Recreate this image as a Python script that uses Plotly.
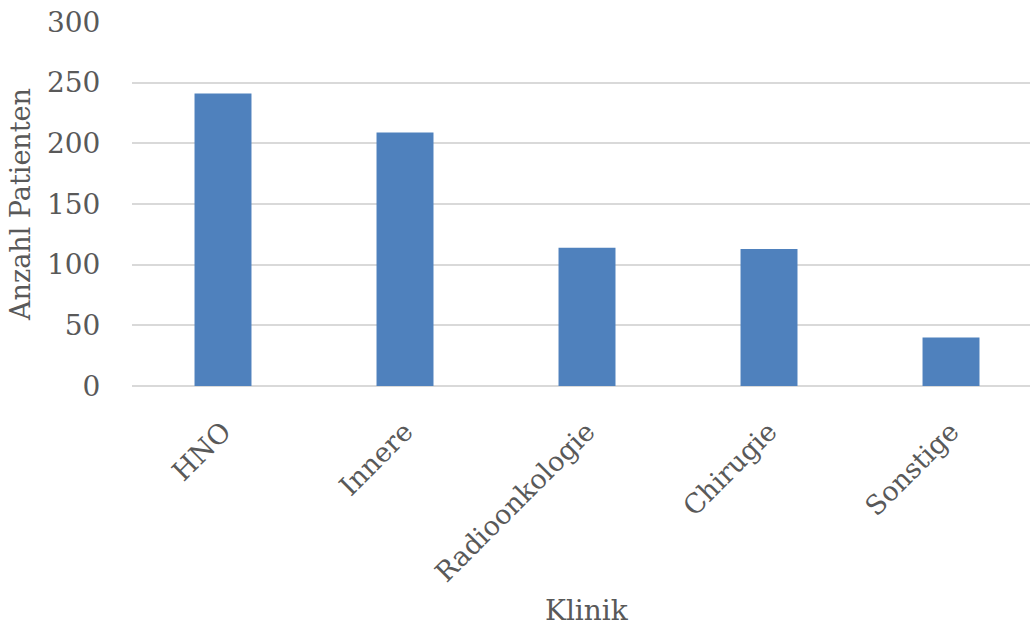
import plotly.graph_objects as go

categories = ["HNO", "Innere", "Radioonkologie", "Chirugie", "Sonstige"]
values = [241, 209, 114, 113, 40]
y_ticks = [0, 50, 100, 150, 200, 250, 300]

FONT = "DejaVu Serif"
GRAY = "#595959"

fig = go.Figure(go.Bar(x=categories, y=values, marker=dict(color="#4f81bd", line=dict(width=0))))

fig.update_layout(
    width=1030, height=630,
    margin=dict(l=132, r=0, t=22, b=244, autoexpand=False),
    paper_bgcolor="white", plot_bgcolor="white",
    bargap=0.687,
    showlegend=False,
    font=dict(family=FONT, color=GRAY, size=27),
    annotations=[dict(
        text="Klinik", xref="paper", yref="paper", x=(587 - 132) / 898, y=-(610 - 386) / 364,
        xanchor="center", yanchor="middle", showarrow=False,
        font=dict(family=FONT, size=28, color=GRAY),
    )],
)
fig.update_xaxes(
    range=[-0.5, 4.434],
    tickangle=-45,
    tickfont=dict(family=FONT, size=27, color=GRAY),
    ticks="outside", ticklen=18, tickcolor="rgba(0,0,0,0)",
    showgrid=False, showline=False, zeroline=False,
)
fig.update_yaxes(
    range=[0, 300], tickvals=y_ticks,
    tickfont=dict(family=FONT, size=28, color=GRAY),
    ticks="outside", ticklen=25, tickcolor="rgba(0,0,0,0)",
    showgrid=True, gridcolor="#d9d9d9", gridwidth=1.5,
    zeroline=True, zerolinecolor="#d9d9d9", zerolinewidth=1.5,
    showline=False,
    title=dict(text="Anzahl Patienten", font=dict(family=FONT, size=27, color=GRAY), standoff=8),
)

fig.write_html("out.html")
